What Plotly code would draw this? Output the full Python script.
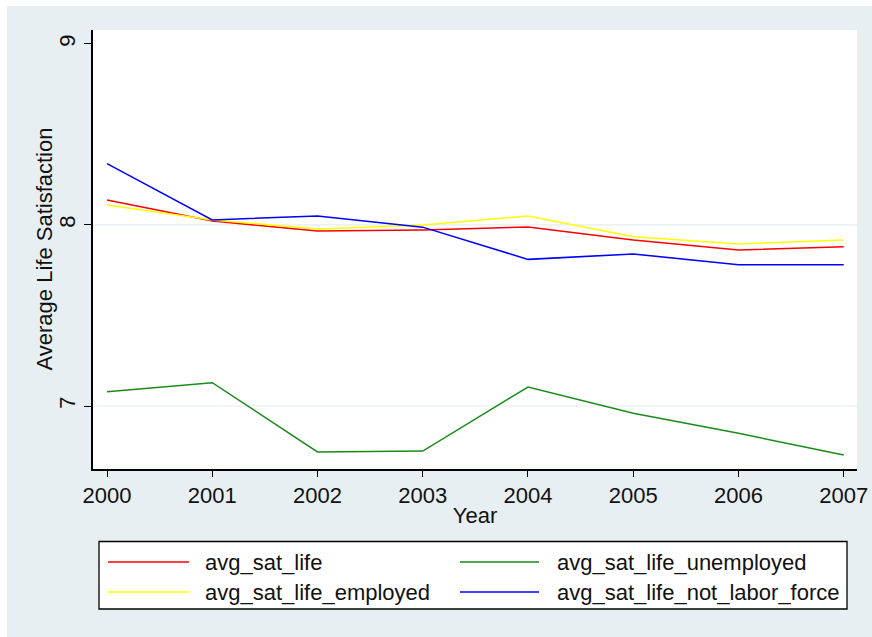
import plotly.graph_objects as go

years = [2000, 2001, 2002, 2003, 2004, 2005, 2006, 2007]
avg_sat_life = [8.138, 8.022, 7.967, 7.972, 7.989, 7.917, 7.862, 7.880]
avg_sat_life_employed = [8.110, 8.028, 7.978, 8.000, 8.050, 7.935, 7.895, 7.917]
avg_sat_life_unemployed = [7.079, 7.129, 6.746, 6.751, 7.105, 6.960, 6.849, 6.729]
avg_sat_life_not_labor_force = [8.339, 8.028, 8.050, 7.988, 7.810, 7.840, 7.780, 7.780]

series = [
    ("avg_sat_life", avg_sat_life, "#ff0000"),
    ("avg_sat_life_unemployed", avg_sat_life_unemployed, "#1a8a1a"),
    ("avg_sat_life_employed", avg_sat_life_employed, "#ffff00"),
    ("avg_sat_life_not_labor_force", avg_sat_life_not_labor_force, "#0000ff"),
]
y_ticks = [7, 8, 9]
grid_vals = [7, 8]

W, H = 872, 637
L, R, T, B = 93, 15, 30, 168
pw, ph = W - L - R, H - T - B

def px(x):
    return (x - L) / pw

def py(y):
    return (H - B - y) / ph

FONT = "Arial, Liberation Sans, sans-serif"
BG = "#e8eff2"

fig = go.Figure()
for name, vals, col in series:
    fig.add_trace(go.Scatter(x=years, y=vals, mode="lines", name=name,
                             line=dict(color=col, width=1.5), showlegend=False))

shapes = [
    dict(type="rect", xref="paper", yref="paper", x0=px(7), x1=px(880), y0=py(640), y1=py(6),
         fillcolor=BG, line=dict(width=0), layer="below"),
    dict(type="rect", xref="paper", yref="paper", x0=0, x1=1, y0=0, y1=1,
         fillcolor="white", line=dict(width=0), layer="below"),
]
for g in grid_vals:
    shapes.append(dict(type="line", xref="paper", yref="y", x0=0, x1=1, y0=g, y1=g,
                       line=dict(color="#e6eef0", width=1.2), layer="below"))

# legend box
shapes.append(dict(type="rect", xref="paper", yref="paper", x0=px(99), x1=px(847),
                   y0=py(609), y1=py(541.5), fillcolor="white",
                   line=dict(color="black", width=1.3)))
annotations = []
legend_pos = [(108, 189, 203, 562), (460, 539, 555, 562), (108, 189, 203, 592), (460, 539, 555, 592)]
for (name, vals, col), (lx0, lx1, tx, ly) in zip(series, legend_pos):
    shapes.append(dict(type="line", xref="paper", yref="paper", x0=px(lx0), x1=px(lx1),
                       y0=py(ly), y1=py(ly), line=dict(color=col, width=1.6)))
    annotations.append(dict(xref="paper", yref="paper", x=px(tx), y=py(ly), text=name,
                            showarrow=False, xanchor="left", yanchor="middle",
                            font=dict(family=FONT, size=22, color="#111")))

# y-axis title
annotations.append(dict(xref="paper", yref="paper", x=px(44), y=0.5,
                        text="Average Life Satisfaction", textangle=-90, showarrow=False,
                        xanchor="center", yanchor="middle",
                        font=dict(family=FONT, size=22, color="#111")))

fig.update_layout(
    template="none",
    width=W, height=H,
    margin=dict(l=L, r=R, t=T, b=B, pad=0),
    paper_bgcolor="white", plot_bgcolor="white",
    font=dict(family=FONT, size=22, color="#111"),
    shapes=shapes, annotations=annotations,
    xaxis=dict(range=[1999.867, 2007.126], tickvals=years, ticktext=[str(y) for y in years],
               automargin=False,
               showgrid=False, zeroline=False, showline=True, linecolor="black", linewidth=1.5,
               ticks="outside", ticklen=6, tickwidth=1.3, tickcolor="black",
               tickfont=dict(size=22),
               title=dict(text="Year", font=dict(size=22), standoff=0)),
    yaxis=dict(range=[6.652, 9.077], tickvals=y_ticks, ticktext=[str(v) for v in y_ticks],
               automargin=False,
               showgrid=False, zeroline=False, showline=True, linecolor="black", linewidth=1.5,
               ticks="outside", ticklen=7, tickwidth=1.3, tickcolor="black",
               tickangle=-90, tickfont=dict(size=22)),
)

fig.write_html("out.html")
